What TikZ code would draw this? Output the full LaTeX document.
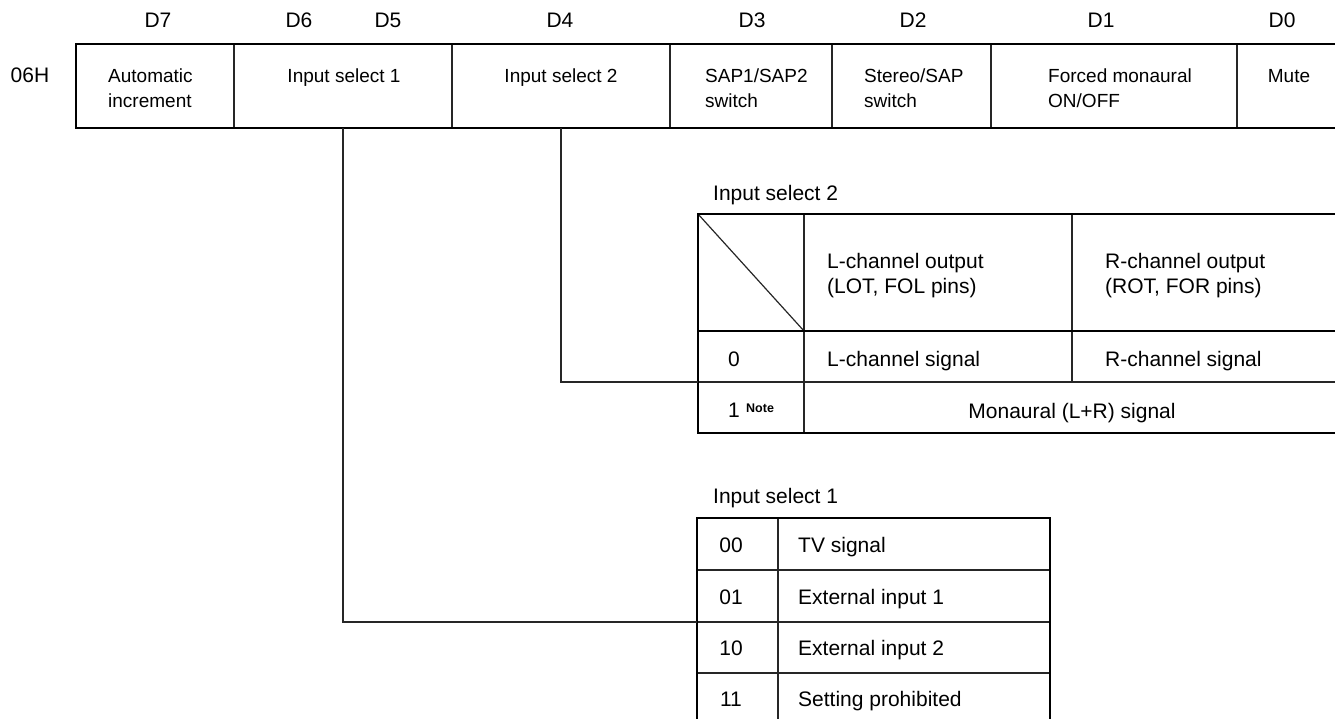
\documentclass[tikz,border=0pt]{standalone}
\usepackage{fontspec}
\setmainfont{Liberation Sans}
% two stacked lines, baseline of the box = baseline of the first line
\newcommand\celltwo[2]{\vtop{\baselineskip=25pt\hbox{#1}\hbox{#2}}}
\begin{document}
\begin{tikzpicture}[x=1pt,y=-1pt,
  reg/.style={font=\fontsize{19}{25}\selectfont, inner sep=0pt},
  tab/.style={font=\fontsize{21}{25}\selectfont, inner sep=0pt},
  note/.style={font=\fontsize{12.5}{14}\selectfont\bfseries, inner sep=0pt},
  outline/.style={line width=2.6pt, black},
  rule/.style={line width=1.2pt, black!85}]
\useasboundingbox (0,0) rectangle (1335,719);

% ---------------- register 06H ----------------
\foreach \x/\t in {158/D7,299/D6,388/D5,560/D4,752/D3,913/D2,1101/D1,1282/D0}
  \node[tab, anchor=base] (bit\t) at (\x,28) {\t};
\node[tab, anchor=base] (addr) at (30,83) {06H};

\foreach \x in {234,452,670,832,991,1237}
  \draw[rule] (\x,44) -- (\x,128);
\draw[outline] (76,44) rectangle (1345,128);

\node[reg, anchor=base west] (autoinc) at (108,83) {\celltwo{Automatic}{increment}};
\node[reg, anchor=base] (insel1) at (344,83) {Input select 1};
\node[reg, anchor=base] (insel2) at (561,83) {Input select 2};
\node[reg, anchor=base west] (sapsw) at (705,83) {\celltwo{SAP1/SAP2}{switch}};
\node[reg, anchor=base west] (stsw) at (864,83) {\celltwo{Stereo/SAP}{switch}};
\node[reg, anchor=base west] (mono) at (1048,83) {\celltwo{Forced monaural}{ON/OFF}};
\node[reg, anchor=base] (mute) at (1289,83) {Mute};

% ---------------- table: input select 2 ----------------
\node[tab, anchor=base west] (t2title) at (713,201) {Input select 2};
\draw[rule] (698,214) -- (804,331);
\draw[rule] (804,214) -- (804,433);
\draw[rule] (1072,214) -- (1072,382);
\draw[rule] (698,382) -- (1345,382);
\draw[outline] (1345,214) -- (698,214) -- (698,433) -- (1345,433);
\draw[outline] (698,331) -- (1345,331);

\node[tab, anchor=base west] (lhead) at (827,269) {\celltwo{L-channel output}{(LOT, FOL pins)}};
\node[tab, anchor=base west] (rhead) at (1105,269) {\celltwo{R-channel output}{(ROT, FOR pins)}};
\node[tab, anchor=base] (v0) at (734,366) {0};
\node[tab, anchor=base west] (lsig) at (827,366) {L-channel signal};
\node[tab, anchor=base west] (rsig) at (1105,366) {R-channel signal};
\node[tab, anchor=base west] (v1) at (728,417) {1};
\node[note, anchor=base west] (v1note) at (746,412) {Note};
\node[tab, anchor=base] (monosig) at (1072,418) {Monaural (L+R) signal};

% ---------------- table: input select 1 ----------------
\node[tab, anchor=base west] (t1title) at (713,503) {Input select 1};
\draw[rule] (778,518) -- (778,730);
\foreach \y in {570,622,673}
  \draw[rule] (697,\y) -- (1050,\y);
\draw[outline] (697,730) -- (697,518) -- (1050,518) -- (1050,730);

\foreach \y/\c/\s [count=\i] in {552/00/TV signal,604/01/External input 1,655/10/External input 2,706/11/Setting prohibited}{
  \node[tab, anchor=base] (code\i) at (731,\y) {\c};
  \node[tab, anchor=base west] (sel\i) at (798,\y) {\s};
}

% ---------------- connectors ----------------
\coordinate (is1foot) at (343,128);
\coordinate (t1join) at (697,622);
\coordinate (is2foot) at (561,128);
\coordinate (t2join) at (698,382);
\draw[rule] (is1foot) |- (t1join);
\draw[rule] (is2foot) |- (t2join);
\end{tikzpicture}
\end{document}
